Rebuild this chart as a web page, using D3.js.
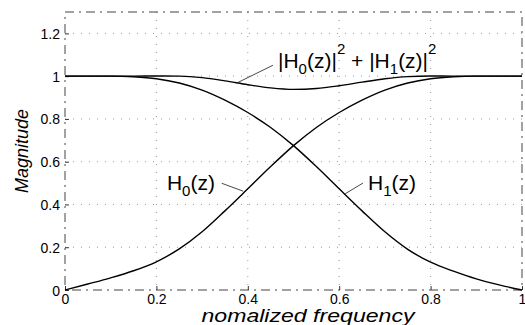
<!DOCTYPE html>
<html>
<head>
<meta charset="utf-8">
<script src="https://cdn.jsdelivr.net/npm/d3@7"></script>
<style>
  body { margin: 0; background: #fff; }
  svg { display: block; font-family: 'Liberation Sans', Arial, sans-serif; }
</style>
</head>
<body>
<div id="vis"></div>
<script>
// values
var freq = [0, 0.05, 0.1, 0.15, 0.2, 0.25, 0.3, 0.35, 0.4, 0.45, 0.5, 0.55, 0.6, 0.65, 0.7, 0.75, 0.8, 0.85, 0.9, 0.95, 1];
var h0 = [0, 0.028, 0.057, 0.09, 0.132, 0.192, 0.272, 0.37, 0.473, 0.577, 0.675, 0.76, 0.83, 0.888, 0.935, 0.968, 0.988, 0.997, 1, 1, 1];
var h1 = [1, 1, 1, 0.997, 0.988, 0.968, 0.935, 0.888, 0.83, 0.76, 0.675, 0.577, 0.473, 0.37, 0.272, 0.19, 0.13, 0.088, 0.052, 0.024, 0];
var power = [1, 1, 1, 1, 1.001, 1, 0.993, 0.978, 0.96, 0.945, 0.938, 0.942, 0.955, 0.972, 0.988, 0.998, 1.001, 1, 1, 1, 1];
var xTicks = [0, 0.2, 0.4, 0.6, 0.8, 1];
var yTicks = [0, 0.2, 0.4, 0.6, 0.8, 1, 1.2];

// annotation anchors in data units: text start, leader start, leader end
var notes = [
  {parts: [['|H', 0], ['0', -1], ['(z)|', 0], ['2', 1], [' + |H', 0], ['1', -1], ['(z)|', 0], ['2', 1]],
   tx: 0.466, ty: 1.037, l1: [0.455, 1.051], l2: [0.376, 0.968]},
  {parts: [['H', 0], ['0', -1], ['(z)', 0]], tx: 0.223, ty: 0.467, l1: [0.343, 0.499], l2: [0.39, 0.462]},
  {parts: [['H', 0], ['1', -1], ['(z)', 0]], tx: 0.663, ty: 0.467, l1: [0.652, 0.5], l2: [0.613, 0.45]}
];

var margin = {left: 65, right: 3, top: 12, bottom: 35};
var W = 525, H = 325;
var width = W - margin.left - margin.right;
var height = H - margin.top - margin.bottom;

var svg = d3.select('#vis')
  .append('svg')
    .attr('width', W)
    .attr('height', H)
  .append('g')
    .attr('transform', 'translate(' + margin.left + ',' + margin.top + ')');

var x = d3.scaleLinear().domain([0, 1]).range([0, width]);
var y = d3.scaleLinear().domain([0, 1.3]).range([height, 0]);

// dotted grid
svg.append('g')
  .selectAll('line')
  .data(xTicks.slice(1, -1))
  .enter().append('line')
    .attr('x1', d => x(d)).attr('x2', d => x(d))
    .attr('y1', 0).attr('y2', height)
    .attr('stroke', '#999').attr('stroke-width', 1).attr('stroke-dasharray', '1,7');
svg.append('g')
  .selectAll('line')
  .data(yTicks.slice(1))
  .enter().append('line')
    .attr('x1', 0).attr('x2', width)
    .attr('y1', d => y(d)).attr('y2', d => y(d))
    .attr('stroke', '#999').attr('stroke-width', 1).attr('stroke-dasharray', '1,7');

// box
svg.append('rect')
  .attr('width', width).attr('height', height)
  .attr('fill', 'none').attr('stroke', '#444').attr('stroke-width', 1)
  .attr('stroke-dasharray', '9,5,2,5');

var xAxis = svg.append('g')
  .attr('transform', 'translate(0,' + height + ')')
  .call(d3.axisBottom(x).tickValues(xTicks).tickFormat(d3.format('')).tickSize(-4).tickPadding(4));
var yAxis = svg.append('g')
  .call(d3.axisLeft(y).tickValues(yTicks).tickFormat(d3.format('')).tickSize(-4).tickPadding(5));
[xAxis, yAxis].forEach(a => {
  a.select('.domain').remove();
  a.selectAll('line').attr('stroke', '#333');
  a.selectAll('text').attr('font-size', 14).attr('fill', '#000').attr('font-family', 'Liberation Sans, Arial, sans-serif');
});
yAxis.selectAll('text').attr('dy', '0.36em');

// curves
var line = vals => d3.line()
  .x((d, i) => x(freq[i]))
  .y(d => y(d))
  .curve(d3.curveMonotoneX)(vals);

[h0, h1, power].forEach(vals => {
  svg.append('path')
    .attr('d', line(vals))
    .attr('fill', 'none')
    .attr('stroke', '#000')
    .attr('stroke-width', 1.4);
});

// annotations
notes.forEach(n => {
  svg.append('line')
    .attr('x1', x(n.l1[0])).attr('y1', y(n.l1[1]))
    .attr('x2', x(n.l2[0])).attr('y2', y(n.l2[1]))
    .attr('stroke', '#333').attr('stroke-width', 0.9);
  var t = svg.append('text')
    .attr('x', x(n.tx)).attr('y', y(n.ty))
    .attr('font-size', 21).attr('fill', '#000');
  var dyAcc = 0;
  n.parts.forEach(p => {
    var want = p[1] === -1 ? 6 : p[1] === 1 ? -14 : 0;
    var s = t.append('tspan').text(p[0]).attr('dy', want - dyAcc);
    if (p[1] !== 0) s.attr('font-size', 15);
    dyAcc = want;
  });
});

// axis titles
svg.append('text')
  .attr('x', x(0.5) - 92).attr('y', height + 32)
  .attr('font-size', 18).attr('font-style', 'italic')
  .attr('textLength', 213).attr('lengthAdjust', 'spacingAndGlyphs')
  .text('nomalized frequency');

svg.append('text')
  .attr('transform', 'translate(' + (28 - margin.left) + ',' + (y(0.65)) + ') rotate(-90)')
  .attr('text-anchor', 'middle')
  .attr('font-size', 18).attr('font-style', 'italic')
  .text('Magnitude');
</script>
</body>
</html>
